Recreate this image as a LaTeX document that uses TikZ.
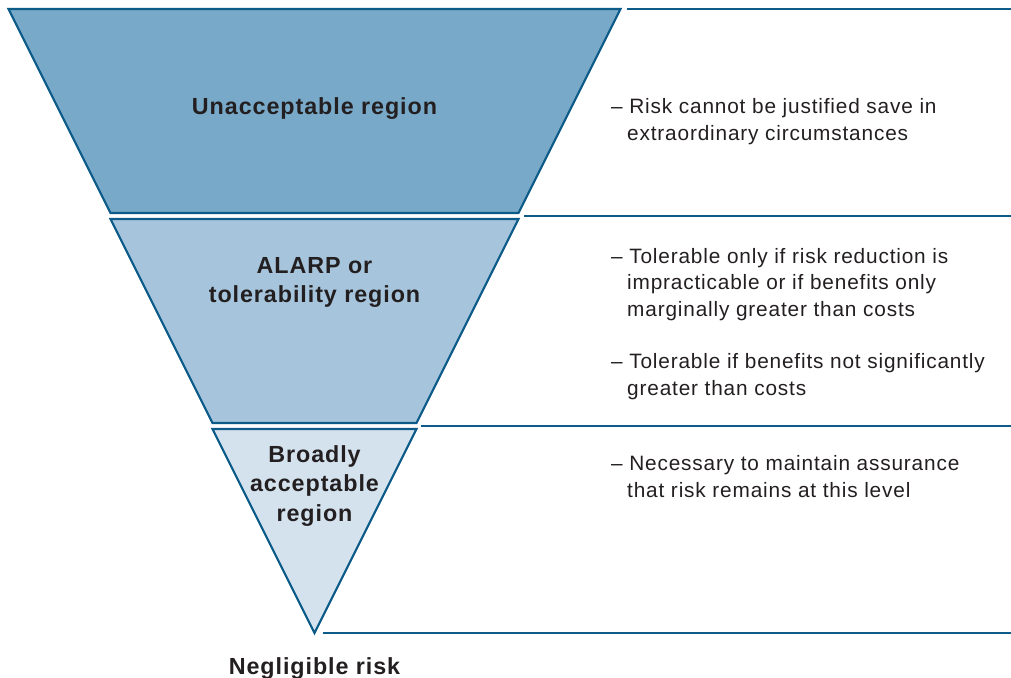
\documentclass[tikz,border=0pt]{standalone}
\usepackage{fontspec}
\setmainfont{Liberation Sans}
\newfontfamily\diagfont[LetterSpace=4]{Liberation Sans}
\definecolor{edge}{HTML}{0D5B88}
\definecolor{fillA}{HTML}{78A9C8}
\definecolor{fillB}{HTML}{A6C5DC}
\definecolor{fillC}{HTML}{D4E2EE}
\definecolor{ink}{HTML}{231F20}
\newcommand{\noteindent}{\hspace*{16pt}}
\begin{document}
\begin{tikzpicture}[x=1pt,y=-1pt,
  piece/.style={draw=edge,line width=2.1pt,line join=miter},
  rule/.style={draw=edge,line width=2.4pt},
  regionlabel/.style={anchor=base,align=center,text=ink,inner sep=0pt,
    font=\diagfont\bfseries\fontsize{23.3}{29.5}\selectfont},
  note/.style={anchor=base west,align=left,text=ink,inner sep=0pt,
    font=\diagfont\fontsize{20.8}{26.5}\selectfont}]
\useasboundingbox (0,0) rectangle (1011,677);
% pieces
\path[piece,fill=fillA] (8.5,9) -- (620.5,9) -- (518.5,213) -- (110.5,213) -- cycle;
\path[piece,fill=fillB] (110.5,219) -- (518.5,219) -- (416.5,423) -- (212.5,423) -- cycle;
\path[piece,fill=fillC] (212.5,429) -- (416.5,429) -- (314.5,633) -- cycle;
% rules
\coordinate (r1a) at (627,9);   \coordinate (r1b) at (1011,9);
\coordinate (r2a) at (524,216); \coordinate (r2b) at (1011,216);
\coordinate (r3a) at (421,426); \coordinate (r3b) at (1011,426);
\coordinate (r4a) at (323,633); \coordinate (r4b) at (1011,633);
\draw[rule] (r1a) -- (r1b);
\draw[rule] (r2a) -- (r2b);
\draw[rule] (r3a) -- (r3b);
\draw[rule] (r4a) -- (r4b);
% region labels (anchored at the baseline of the last line)
\node[regionlabel] (l1) at (314.5,114) {Unacceptable region};
\node[regionlabel] (l2) at (314.5,302.5) {ALARP or\\tolerability region};
\node[regionlabel] (l3) at (314.5,521) {Broadly\\acceptable\\region};
\node[regionlabel] (l4) at (314.5,674) {Negligible risk};
% notes (anchored at the baseline of the last line)
\node[note] (n1) at (611,140) {– Risk cannot be justified save in\\\noteindent extraordinary circumstances};
\node[note] (n2) at (611,316) {– Tolerable only if risk reduction is\\\noteindent impracticable or if benefits only\\\noteindent marginally greater than costs};
\node[note] (n3) at (611,395) {– Tolerable if benefits not significantly\\\noteindent greater than costs};
\node[note] (n4) at (611,497) {– Necessary to maintain assurance\\\noteindent that risk remains at this level};
\end{tikzpicture}
\end{document}
